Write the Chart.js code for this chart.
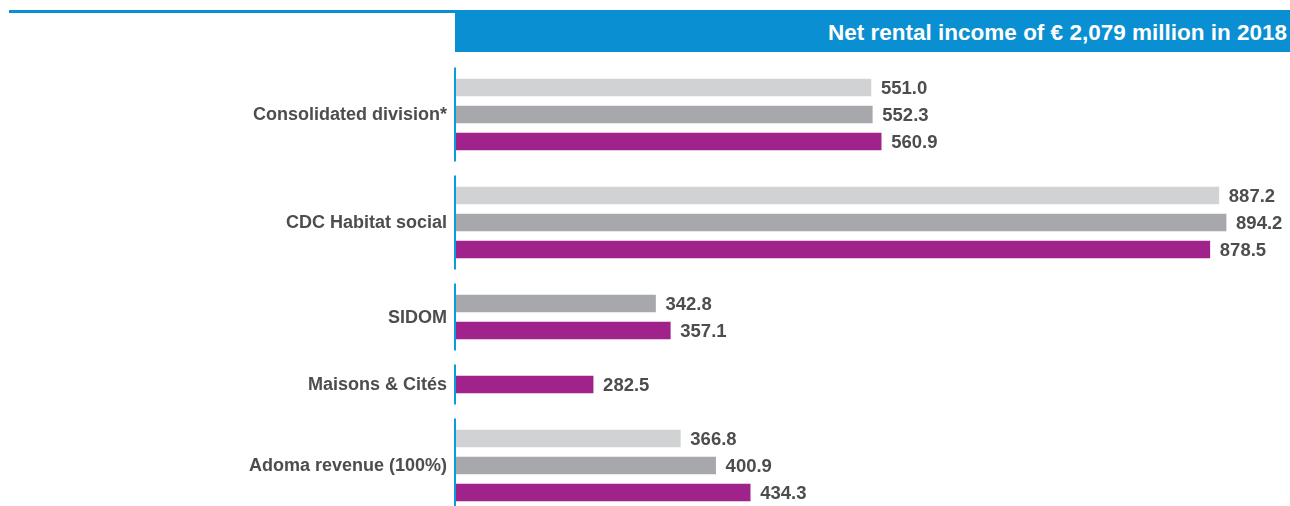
<!DOCTYPE html>
<html>
<head>
<meta charset="utf-8">
<script src="https://cdn.jsdelivr.net/npm/chart.js@4"></script>
<style>
    body { margin: 0; background: #fff; }
    #wrap { position: relative; width: 1290px; height: 506px; overflow: hidden; }
    #topLine { position: absolute; left: 9px; top: 10px; width: 446px; height: 3px; background: #0a8fd2; }
    #header {
        position: absolute; left: 455px; top: 10px; width: 835px; height: 42px;
        background: #0a8fd2; color: #fff; font: bold 22.5px "Liberation Sans", Arial, sans-serif;
        text-align: right; line-height: 46px; box-sizing: border-box; padding-right: 3px;
    }
    canvas { position: absolute; left: 0; top: 0; }
</style>
</head>
<body>
<div id="wrap">
    <div id="topLine"></div>
    <div id="header">Net rental income of € 2,079 million in 2018</div>
    <canvas id="rentChart" width="1290" height="506"></canvas>
</div>
<script>
// Datos: revenus locatifs nets par division (M€)
const grupos = ['Consolidated division*', 'CDC Habitat social', 'SIDOM', 'Maisons & Cités', 'Adoma revenue (100%)'];
const valores2016 = [551.0, 887.2, null, null, 366.8];
const valores2017 = [552.3, 894.2, 342.8, null, 400.9];
const valores2018 = [560.9, 878.5, 357.1, 282.5, 434.3];
const series = [
    { label: '2016', data: valores2016, color: '#d1d2d4' },
    { label: '2017', data: valores2017, color: '#a7a8ab' },
    { label: '2018', data: valores2018, color: '#a0228b' }
];

// una fila por barra, con una fila vacía entre grupos
const filas = [];
grupos.forEach((g, gi) => {
    series.forEach((s, si) => {
        if (s.data[gi] !== null) filas.push({ grupo: gi, serie: si });
    });
    if (gi < grupos.length - 1) filas.push({ grupo: null, serie: null });
});

const datasets = series.map((s, si) => ({
    label: s.label,
    data: filas.map(f => f.serie === si ? s.data[f.grupo] : null),
    backgroundColor: s.color,
    borderWidth: 0,
    barThickness: 17,
    grouped: false
}));

const etiquetasPlugin = {
    id: 'etiquetas',
    afterDatasetsDraw(chart) {
        const ctx = chart.ctx;
        const yScale = chart.scales.y;
        ctx.save();
        ctx.fillStyle = '#4d4d4f';
        ctx.textBaseline = 'middle';

        // valores al final de cada barra
        ctx.font = 'bold 18.5px "Liberation Sans", Arial, sans-serif';
        chart.data.datasets.forEach((ds, i) => {
            const meta = chart.getDatasetMeta(i);
            meta.data.forEach((bar, j) => {
                const v = ds.data[j];
                if (v === null) return;
                ctx.textAlign = 'left';
                ctx.fillText(v.toFixed(1), bar.x + 10, bar.y + 1);
            });
        });

        // nombre del grupo y eje azul por grupo
        ctx.font = 'bold 18px "Liberation Sans", Arial, sans-serif';
        grupos.forEach((g, gi) => {
            const idx = filas.map((f, k) => f.grupo === gi ? k : -1).filter(k => k >= 0);
            const yIni = yScale.getPixelForValue(idx[0]);
            const yFin = yScale.getPixelForValue(idx[idx.length - 1]);
            ctx.textAlign = 'right';
            ctx.fillStyle = '#4d4d4f';
            ctx.fillText(g, 447, (yIni + yFin) / 2 + 1);
            ctx.fillStyle = '#0a9be0';
            ctx.fillRect(454, yIni - 20, 2, yFin - yIni + 40);
        });
        ctx.restore();
    }
};

new Chart(document.getElementById('rentChart'), {
    type: 'bar',
    data: {
        labels: filas.map((f, k) => String(k)),
        datasets: datasets
    },
    options: {
        indexAxis: 'y',
        responsive: false,
        animation: false,
        layout: { padding: { left: 456, right: 0, top: 74, bottom: 0 } },
        plugins: {
            legend: { display: false },
            tooltip: { enabled: false }
        },
        scales: {
            x: { display: false, min: 150, max: 956 },
            y: { display: false }
        }
    },
    plugins: [etiquetasPlugin]
});
</script>
</body>
</html>
